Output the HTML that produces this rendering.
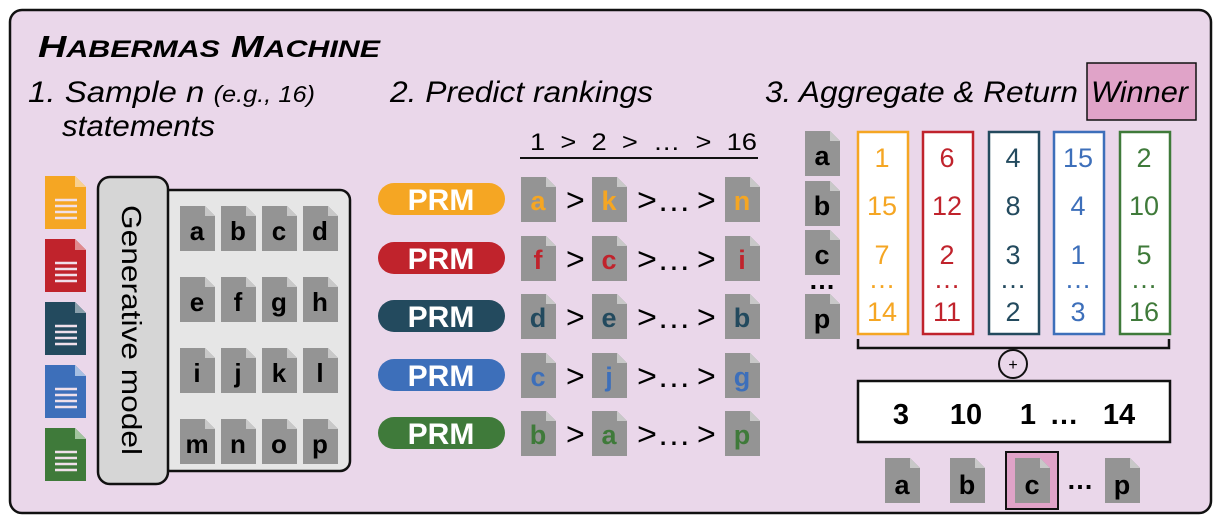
<!DOCTYPE html>
<html><head><meta charset="utf-8"><style>
html,body{margin:0;padding:0;background:#fff}
svg{display:block}
text{font-family:"Liberation Sans",Arial,Helvetica,sans-serif}
</style></head><body>
<svg width="1221" height="524" viewBox="0 0 1221 524" xmlns="http://www.w3.org/2000/svg" font-family="Liberation Sans, Arial, Helvetica, sans-serif">
<defs>
<g id="gd"><path d="M0,0 H25 L35,10 V45 H0 Z" fill="#949494"/><path d="M25,0 V10 H35 Z" fill="#c8c8c8"/></g>
<g id="ln"><g stroke="#f0e0ea" stroke-width="2.5"><line x1="8" y1="22" x2="30" y2="22"/><line x1="8" y1="28" x2="30" y2="28"/><line x1="8" y1="34" x2="30" y2="34"/><line x1="8" y1="40" x2="30" y2="40"/></g></g>
</defs>
<rect x="10" y="10" width="1201" height="503" rx="12" fill="#ead7ea" stroke="#111" stroke-width="2.5"/>
<text x="38" y="57" font-style="italic" font-weight="bold" font-size="31" textLength="342" lengthAdjust="spacingAndGlyphs">H<tspan font-size="24">ABERMAS</tspan> M<tspan font-size="24">ACHINE</tspan></text>
<text x="28" y="102" font-style="italic" font-size="30" textLength="287" lengthAdjust="spacingAndGlyphs">1. Sample n <tspan font-size="23">(e.g., 16)</tspan></text>
<text x="62" y="136" font-style="italic" font-size="30" textLength="153" lengthAdjust="spacingAndGlyphs">statements</text>
<text x="390" y="102" font-style="italic" font-size="30" textLength="263" lengthAdjust="spacingAndGlyphs">2. Predict rankings</text>
<rect x="1087" y="63" width="109" height="57" fill="#e0a3c8" stroke="#111" stroke-width="1.5"/>
<text x="765" y="102" font-style="italic" font-size="30" textLength="313" lengthAdjust="spacingAndGlyphs">3. Aggregate &amp; Return</text>
<text x="1091" y="102" font-style="italic" font-size="30" textLength="97" lengthAdjust="spacingAndGlyphs">Winner</text>

<!-- colored docs -->
<g transform="translate(45,176)"><path d="M0,0 H30 L41,11 V53 H0 Z" fill="#f5a623"/><path d="M30,0 V11 H41 Z" fill="#f8d090"/><g transform="translate(2,2)"><use href="#ln"/></g></g>
<g transform="translate(45,239)"><path d="M0,0 H30 L41,11 V53 H0 Z" fill="#c0232c"/><path d="M30,0 V11 H41 Z" fill="#e08a8e"/><g transform="translate(2,2)"><use href="#ln"/></g></g>
<g transform="translate(45,302)"><path d="M0,0 H30 L41,11 V53 H0 Z" fill="#234a5e"/><path d="M30,0 V11 H41 Z" fill="#8aa0ac"/><g transform="translate(2,2)"><use href="#ln"/></g></g>
<g transform="translate(45,365)"><path d="M0,0 H30 L41,11 V53 H0 Z" fill="#3d6fba"/><path d="M30,0 V11 H41 Z" fill="#a6bfe2"/><g transform="translate(2,2)"><use href="#ln"/></g></g>
<g transform="translate(45,428)"><path d="M0,0 H30 L41,11 V53 H0 Z" fill="#3f7a3a"/><path d="M30,0 V11 H41 Z" fill="#a2c49e"/><g transform="translate(2,2)"><use href="#ln"/></g></g>

<rect x="160" y="190" width="190" height="281" rx="10" fill="#e6e6e6" stroke="#111" stroke-width="2.5"/>
<rect x="98" y="177" width="70" height="307" rx="12" fill="#d6d6d6" stroke="#111" stroke-width="2.5"/>
<text transform="translate(122,205) rotate(90)" font-size="28" textLength="250" lengthAdjust="spacingAndGlyphs">Generative model</text>

<g font-weight="bold" font-size="26" text-anchor="middle">
<use href="#gd" x="180" y="206"/><use href="#gd" x="221" y="206"/><use href="#gd" x="262" y="206"/><use href="#gd" x="303" y="206"/>
<use href="#gd" x="180" y="277"/><use href="#gd" x="221" y="277"/><use href="#gd" x="262" y="277"/><use href="#gd" x="303" y="277"/>
<use href="#gd" x="180" y="348"/><use href="#gd" x="221" y="348"/><use href="#gd" x="262" y="348"/><use href="#gd" x="303" y="348"/>
<use href="#gd" x="180" y="419"/><use href="#gd" x="221" y="419"/><use href="#gd" x="262" y="419"/><use href="#gd" x="303" y="419"/>
<text x="197" y="240">a</text><text x="238" y="240">b</text><text x="279" y="240">c</text><text x="320" y="240">d</text>
<text x="197" y="311">e</text><text x="238" y="311">f</text><text x="279" y="311">g</text><text x="320" y="311">h</text>
<text x="197" y="382">i</text><text x="238" y="382">j</text><text x="279" y="382">k</text><text x="320" y="382">l</text>
<text x="197" y="453">m</text><text x="238" y="453">n</text><text x="279" y="453">o</text><text x="320" y="453">p</text>
</g>

<!-- rankings -->
<text x="530" y="150" font-size="24" xml:space="preserve" textLength="227" lengthAdjust="spacingAndGlyphs">1  &gt;  2  &gt;  …  &gt;  16</text>
<line x1="520" y1="158" x2="758" y2="158" stroke="#111" stroke-width="2"/>
<g font-weight="bold" font-size="30" text-anchor="middle" fill="#fff">
<rect x="378" y="183" width="127" height="32" rx="16" fill="#f5a623"/><text x="441" y="210">PRM</text>
<rect x="378" y="242" width="127" height="32" rx="16" fill="#c0232c"/><text x="441" y="269">PRM</text>
<rect x="378" y="300" width="127" height="32" rx="16" fill="#234a5e"/><text x="441" y="327">PRM</text>
<rect x="378" y="359" width="127" height="32" rx="16" fill="#3d6fba"/><text x="441" y="386">PRM</text>
<rect x="378" y="417" width="127" height="32" rx="16" fill="#3f7a3a"/><text x="441" y="444">PRM</text>
</g>
<g>
<use href="#gd" x="521" y="177"/><use href="#gd" x="592" y="177"/><use href="#gd" x="725" y="177"/>
<use href="#gd" x="521" y="236"/><use href="#gd" x="592" y="236"/><use href="#gd" x="725" y="236"/>
<use href="#gd" x="521" y="294"/><use href="#gd" x="592" y="294"/><use href="#gd" x="725" y="294"/>
<use href="#gd" x="521" y="353"/><use href="#gd" x="592" y="353"/><use href="#gd" x="725" y="353"/>
<use href="#gd" x="521" y="411"/><use href="#gd" x="592" y="411"/><use href="#gd" x="725" y="411"/>
</g>
<g font-weight="bold" font-size="27" text-anchor="middle">
<g fill="#f5a623"><text x="538" y="210">a</text><text x="609" y="210">k</text><text x="742" y="210">n</text></g>
<g fill="#c0232c"><text x="538" y="269">f</text><text x="609" y="269">c</text><text x="742" y="269">i</text></g>
<g fill="#234a5e"><text x="538" y="327">d</text><text x="609" y="327">e</text><text x="742" y="327">b</text></g>
<g fill="#3d6fba"><text x="538" y="386">c</text><text x="609" y="386">j</text><text x="742" y="386">g</text></g>
<g fill="#3f7a3a"><text x="538" y="444">b</text><text x="609" y="444">a</text><text x="742" y="444">p</text></g>
</g>
<g font-size="32">
<text x="566" y="211">&gt;</text><text x="637" y="211" textLength="54" lengthAdjust="spacingAndGlyphs">&gt;…</text><text x="697" y="211">&gt;</text>
<text x="566" y="270">&gt;</text><text x="637" y="270" textLength="54" lengthAdjust="spacingAndGlyphs">&gt;…</text><text x="697" y="270">&gt;</text>
<text x="566" y="328">&gt;</text><text x="637" y="328" textLength="54" lengthAdjust="spacingAndGlyphs">&gt;…</text><text x="697" y="328">&gt;</text>
<text x="566" y="387">&gt;</text><text x="637" y="387" textLength="54" lengthAdjust="spacingAndGlyphs">&gt;…</text><text x="697" y="387">&gt;</text>
<text x="566" y="445">&gt;</text><text x="637" y="445" textLength="54" lengthAdjust="spacingAndGlyphs">&gt;…</text><text x="697" y="445">&gt;</text>
</g>

<!-- aggregate -->
<use href="#gd" x="805" y="131"/><use href="#gd" x="805" y="181"/><use href="#gd" x="805" y="230"/><use href="#gd" x="805" y="294"/>
<g font-weight="bold" font-size="27" text-anchor="middle">
<text x="822" y="165">a</text><text x="822" y="215">b</text><text x="822" y="264">c</text><text x="822" y="328">p</text>
<text x="822" y="289">…</text>
</g>
<g fill="#fff" stroke-width="2.5">
<rect x="858" y="132" width="50" height="202" stroke="#f5a623"/>
<rect x="923" y="132" width="50" height="202" stroke="#c0232c"/>
<rect x="989" y="132" width="50" height="202" stroke="#234a5e"/>
<rect x="1054" y="132" width="50" height="202" stroke="#3d6fba"/>
<rect x="1120" y="132" width="50" height="202" stroke="#3f7a3a"/>
</g>
<g font-size="27" text-anchor="middle">
<g fill="#f5a623"><text x="882" y="167">1</text><text x="882" y="215">15</text><text x="882" y="264">7</text><text x="882" y="288">…</text><text x="882" y="321">14</text></g>
<g fill="#c0232c"><text x="947" y="167">6</text><text x="947" y="215">12</text><text x="947" y="264">2</text><text x="947" y="288">…</text><text x="947" y="321">11</text></g>
<g fill="#234a5e"><text x="1013" y="167">4</text><text x="1013" y="215">8</text><text x="1013" y="264">3</text><text x="1013" y="288">…</text><text x="1013" y="321">2</text></g>
<g fill="#3d6fba"><text x="1078" y="167">15</text><text x="1078" y="215">4</text><text x="1078" y="264">1</text><text x="1078" y="288">…</text><text x="1078" y="321">3</text></g>
<g fill="#3f7a3a"><text x="1144" y="167">2</text><text x="1144" y="215">10</text><text x="1144" y="264">5</text><text x="1144" y="288">…</text><text x="1144" y="321">16</text></g>
</g>
<path d="M858,339 V348 H1169 V339" fill="none" stroke="#111" stroke-width="2.5"/>
<circle cx="1013" cy="364" r="14" fill="none" stroke="#111" stroke-width="2"/>
<text x="1013" y="370" font-size="16" text-anchor="middle">+</text>
<rect x="858" y="381" width="312" height="61" fill="#fff" stroke="#111" stroke-width="2.5"/>
<g font-weight="bold" font-size="29" text-anchor="middle">
<text x="901" y="424">3</text><text x="966" y="424">10</text><text x="1028" y="424">1</text><text x="1064" y="424">…</text><text x="1119" y="424">14</text>
</g>
<rect x="1006" y="452" width="52" height="57" fill="#e0a3c8" stroke="#111" stroke-width="2"/>
<use href="#gd" x="885" y="458"/><use href="#gd" x="950" y="458"/><use href="#gd" x="1015" y="458"/><use href="#gd" x="1105" y="458"/>
<g font-weight="bold" font-size="27" text-anchor="middle">
<text x="902" y="494">a</text><text x="967" y="494">b</text><text x="1032" y="494">c</text><text x="1122" y="494">p</text><text x="1080" y="489">…</text>
</g>
</svg>
</body></html>
